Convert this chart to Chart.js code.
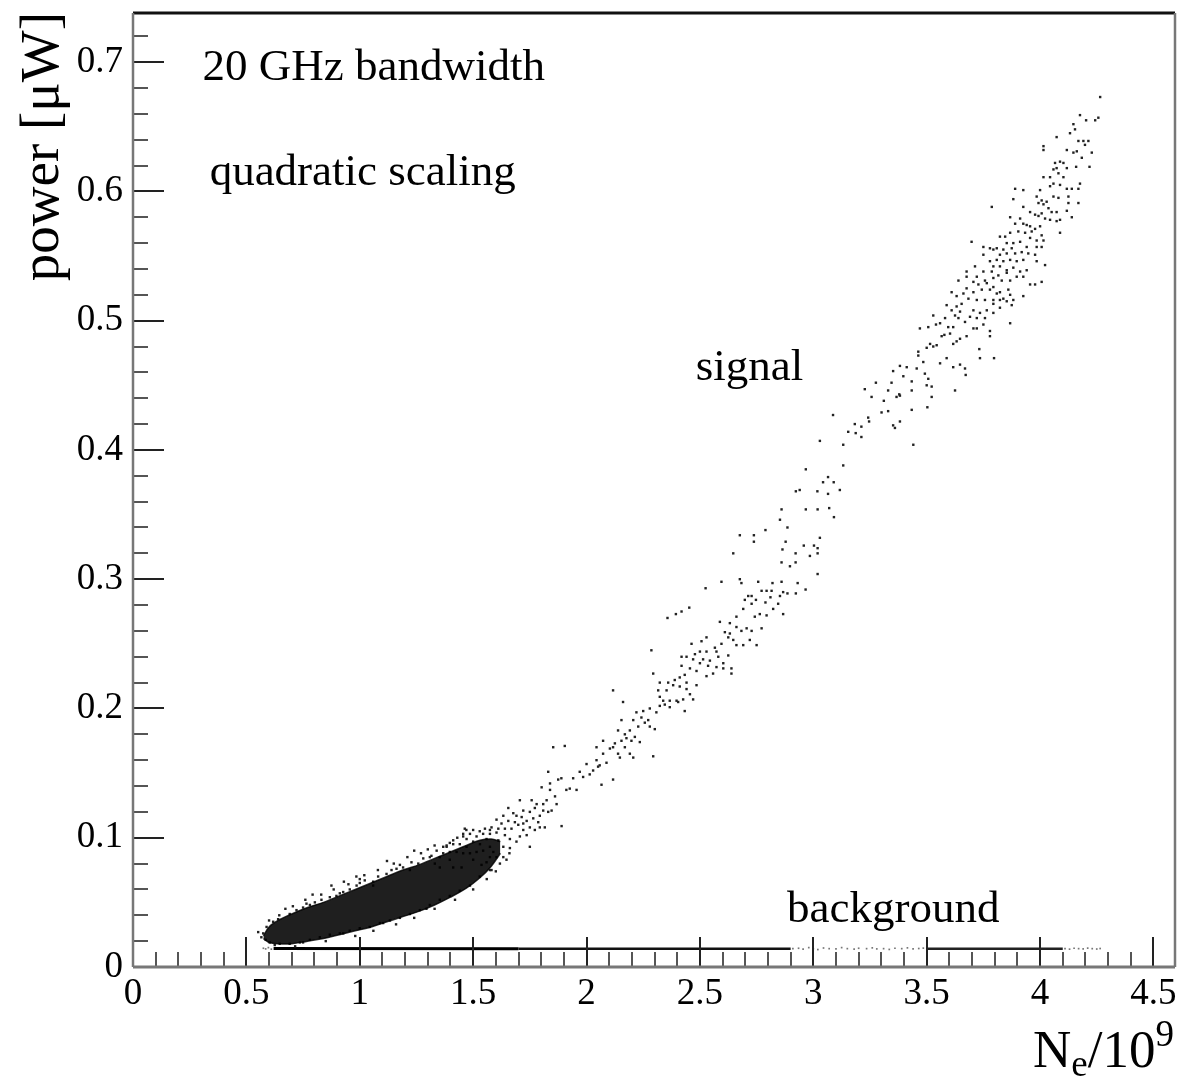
<!DOCTYPE html>
<html>
<head>
<meta charset="utf-8">
<title>power vs Ne</title>
<script src="https://cdn.jsdelivr.net/npm/chart.js@4.4.0/dist/chart.umd.min.js"></script>
<style>
  html, body { margin: 0; padding: 0; background: #fff; }
  #wrap { width: 1179px; height: 1078px; position: relative; }
</style>
</head>
<body>
<div id="wrap"><canvas id="plot"></canvas></div>
<script>
// Graduations des axes.
var xMajor = [0, 0.5, 1, 1.5, 2, 2.5, 3, 3.5, 4, 4.5];
var xLabels = ['0', '0.5', '1', '1.5', '2', '2.5', '3', '3.5', '4', '4.5'];
var xMinor = [0.1, 0.2, 0.3, 0.4, 0.6, 0.7, 0.8, 0.9, 1.1, 1.2, 1.3, 1.4, 1.6, 1.7, 1.8, 1.9,
              2.1, 2.2, 2.3, 2.4, 2.6, 2.7, 2.8, 2.9, 3.1, 3.2, 3.3, 3.4, 3.6, 3.7, 3.8, 3.9,
              4.1, 4.2, 4.3, 4.4];
var yMajor = [0, 0.1, 0.2, 0.3, 0.4, 0.5, 0.6, 0.7];
var yLabels = ['0', '0.1', '0.2', '0.3', '0.4', '0.5', '0.6', '0.7'];
var yMinor = [0.02, 0.04, 0.06, 0.08, 0.12, 0.14, 0.16, 0.18, 0.22, 0.24, 0.26, 0.28,
              0.32, 0.34, 0.36, 0.38, 0.42, 0.44, 0.46, 0.48, 0.52, 0.54, 0.56, 0.58,
              0.62, 0.64, 0.66, 0.68, 0.72];

// Coeur dense du signal (enveloppe haute et basse).
var coreX      = [0.575, 0.60, 0.64, 0.70, 0.77, 0.84, 0.91, 0.98, 1.05, 1.12, 1.19, 1.26, 1.33, 1.40, 1.47, 1.53, 1.58, 1.62];
var coreTop    = [0.024, 0.031, 0.036, 0.041, 0.046, 0.050, 0.055, 0.060, 0.065, 0.070, 0.075, 0.079, 0.084, 0.089, 0.094, 0.098, 0.099, 0.097];
var coreBottom = [0.022, 0.019, 0.018, 0.018, 0.020, 0.022, 0.025, 0.028, 0.031, 0.035, 0.039, 0.043, 0.048, 0.054, 0.061, 0.069, 0.078, 0.088];

// Points du signal autour du coeur.
var blobEdgeTop = [[0.574,0.026],[0.566,0.023],[0.589,0.031],[0.618,0.035],[0.640,0.037],[0.691,0.041],[0.721,0.044],
  [0.750,0.046],[0.780,0.048],[0.802,0.050],[0.831,0.052],[0.868,0.054],[0.897,0.055],[0.927,0.058],[0.956,0.060],
  [0.986,0.063],[1.000,0.065],[1.022,0.067],[1.059,0.066],[1.081,0.070],[1.118,0.072],[1.140,0.075],[1.162,0.076],
  [1.191,0.077],[1.228,0.081],[1.258,0.080],[1.280,0.084],[1.316,0.086],[1.339,0.090],[1.368,0.093],[1.397,0.096],
  [1.412,0.098],[1.456,0.101],[1.486,0.103],[1.529,0.105],[1.574,0.106],[1.383,0.094],[1.221,0.075],[1.059,0.063],
  [0.912,0.057],[0.765,0.049],[1.000,0.068],[1.177,0.079],
  [0.552,0.027],[0.600,0.036],[0.645,0.040],[0.672,0.045],[0.705,0.047],[0.760,0.052],[0.792,0.056],[0.830,0.056],
  [0.875,0.063],[0.885,0.060],[0.950,0.064],[0.985,0.070],[1.020,0.071],[1.080,0.075],[1.120,0.082],[1.150,0.080],
  [1.210,0.085],[1.240,0.090],[1.270,0.088],[1.330,0.094],[1.430,0.100],[1.470,0.106],[1.300,0.091],[0.930,0.066]];
var blobEdgeBottom = [[0.603,0.019],[0.647,0.018],[0.691,0.018],[0.736,0.019],[0.780,0.021],[0.824,0.023],[0.868,0.025],
  [0.912,0.026],[0.956,0.028],[1.000,0.030],[1.044,0.031],[1.089,0.034],[1.133,0.036],[1.177,0.038],[1.221,0.041],
  [1.265,0.044],[1.309,0.048],[1.353,0.052],[1.397,0.055],[1.441,0.059],[1.486,0.063],[1.529,0.070],[1.574,0.075],
  [1.618,0.080],[1.647,0.083],[1.294,0.045],[1.103,0.034],[0.927,0.026],[0.750,0.019],
  [0.585,0.021],[0.625,0.017],[0.715,0.016],[0.850,0.020],[0.980,0.024],[1.060,0.028],[1.160,0.033],[1.240,0.038],
  [1.330,0.045],[1.420,0.052],[1.500,0.060],[1.560,0.068],[1.600,0.074],[1.660,0.088]];
var signalRise = [[1.853,0.170],[1.831,0.151],[1.839,0.142],[1.839,0.137],[1.802,0.139],[1.875,0.145],[1.861,0.132],
  [1.824,0.129],[1.868,0.126],[1.809,0.126],[1.780,0.126],[1.758,0.129],[1.772,0.123],[1.750,0.120],[1.721,0.121],
  [1.794,0.117],[1.809,0.121],[1.831,0.120],[1.846,0.121],[1.706,0.129],[1.655,0.123],[1.677,0.119],[1.691,0.117],
  [1.714,0.116],[1.736,0.113],[1.765,0.115],[1.787,0.112],[1.794,0.108],[1.816,0.108],[1.750,0.108],[1.721,0.111],
  [1.699,0.110],[1.684,0.112],[1.655,0.113],[1.633,0.117],[1.625,0.111],[1.603,0.114],[1.581,0.108],[1.611,0.107],
  [1.640,0.107],[1.669,0.107],[1.603,0.104],[1.574,0.103],[1.552,0.107],[1.544,0.103],[1.559,0.099],[1.515,0.101],
  [1.500,0.106],[1.530,0.095],[1.500,0.097],[1.471,0.099],[1.463,0.107],[1.456,0.103],[1.471,0.093],[1.441,0.095],
  [1.412,0.095],[1.383,0.093],[1.397,0.089],[1.427,0.089],[1.456,0.088],[1.486,0.088],[1.515,0.089],[1.544,0.090],
  [1.574,0.093],[1.589,0.089],[1.633,0.093],[1.662,0.092],[1.691,0.097],[1.706,0.101],[1.736,0.102],[1.721,0.106],
  [1.772,0.106],[1.640,0.102],[1.611,0.098],[1.662,0.099],[1.633,0.085],[1.603,0.085],[1.574,0.085],[1.559,0.081],
  [1.581,0.075],[1.537,0.079],[1.500,0.083],[1.397,0.083],[1.353,0.085],[1.368,0.088],[1.331,0.080],[1.309,0.085],
  [1.449,0.077],[1.412,0.077],[1.353,0.077],[1.890,0.109],[1.750,0.093]];
var signalMid = [[2.860,0.354],[2.967,0.354],[3.019,0.354],[3.070,0.355],[3.091,0.348],[2.853,0.346],[2.886,0.340],
  [2.789,0.338],[2.676,0.334],[2.738,0.334],[2.738,0.329],[3.029,0.332],[2.878,0.329],[2.647,0.320],[2.864,0.323],
  [2.958,0.326],[3.003,0.326],[3.019,0.324],[2.922,0.320],[2.985,0.318],[3.019,0.320],[2.860,0.313],[2.922,0.313],
  [2.897,0.310],[3.019,0.304],[2.595,0.298],[2.676,0.300],[2.757,0.298],[2.820,0.297],[2.860,0.298],[2.931,0.297],
  [2.683,0.297],[2.525,0.293],[2.772,0.291],[2.794,0.291],[2.816,0.291],[2.867,0.290],[2.886,0.289],[2.923,0.289],
  [2.966,0.292],[2.713,0.287],[2.728,0.287],[2.747,0.284],[2.811,0.286],[2.853,0.287],[2.698,0.284],[2.728,0.281],
  [2.789,0.282],[2.845,0.281],[2.823,0.277],[2.453,0.278],[2.419,0.275],[2.394,0.273],[2.357,0.270],[2.691,0.277],
  [2.661,0.271],[2.764,0.273],[2.794,0.272],[2.867,0.273],[2.742,0.271],[2.588,0.267],[2.632,0.266],[2.661,0.263],
  [2.683,0.260],[2.706,0.262],[2.728,0.260],[2.772,0.262],[2.610,0.259],[2.632,0.258],[2.625,0.255],[2.647,0.253],
  [2.661,0.249],[2.691,0.249],[2.720,0.253],[2.750,0.249],[2.595,0.250],[2.529,0.255],[2.507,0.252],[2.566,0.247],
  [2.500,0.244],[2.529,0.244],[2.573,0.244],[2.463,0.250],[2.478,0.242],[2.470,0.238],[2.441,0.240],[2.514,0.238],
  [2.544,0.237],[2.500,0.235],[2.536,0.233],[2.419,0.240],[2.419,0.233],[2.603,0.235],[2.581,0.240],[2.625,0.241],
  [2.639,0.231],[2.639,0.227],[2.603,0.231],[2.573,0.232],[2.558,0.227],[2.529,0.225],[2.485,0.229],[2.456,0.231],
  [2.433,0.226],[2.411,0.224],[2.441,0.220],[2.389,0.222],[2.382,0.218],[2.411,0.217],[2.441,0.215],[2.485,0.218],
  [2.323,0.220],[2.360,0.220],[2.294,0.227],[2.286,0.245],[2.316,0.214],[2.353,0.214],[2.323,0.209],[2.338,0.206],
  [2.367,0.206],[2.397,0.206],[2.426,0.207],[2.456,0.211],[2.470,0.207],[2.367,0.201],[2.404,0.205],[2.433,0.198],
  [2.323,0.202],[2.345,0.203],[2.308,0.197],[2.279,0.200],[2.250,0.198],[2.220,0.197],[2.242,0.193],[2.206,0.191],
  [2.272,0.191],[2.301,0.184],[2.279,0.186],[2.257,0.189],[2.228,0.186],[2.191,0.183],[2.169,0.180],[2.176,0.177],
  [2.198,0.175],[2.235,0.174],[2.213,0.178],[2.139,0.183],[2.154,0.191],[2.154,0.175],[2.125,0.173],[2.103,0.169],
  [2.117,0.170],[2.139,0.165],[2.169,0.170],[2.191,0.165],[2.206,0.162],[2.147,0.162],[2.073,0.175],[2.044,0.170],
  [2.073,0.165],[2.044,0.160],[2.058,0.156],[2.088,0.158],[2.029,0.152],[2.051,0.155],[2.014,0.149],[2.000,0.157],
  [1.970,0.151],[1.941,0.146],[1.985,0.147],[1.926,0.138],[1.956,0.137],[1.911,0.137],[1.889,0.146],[1.904,0.171],
  [2.117,0.214],[2.161,0.205],[2.294,0.163],[2.066,0.141],[2.117,0.145]];
var signalHigh = [[3.352,0.461],[3.227,0.447],[3.330,0.446],[3.311,0.438],[3.367,0.441],[3.379,0.443],[3.257,0.441],
  [3.276,0.452],[3.345,0.452],[3.301,0.429],[3.330,0.430],[3.352,0.419],[3.360,0.417],[3.087,0.427],[3.242,0.425],
  [3.212,0.418],[3.183,0.420],[3.246,0.422],[3.154,0.414],[3.187,0.413],[3.212,0.410],[3.029,0.407],[3.132,0.404],
  [3.132,0.388],[2.967,0.385],[3.065,0.379],[3.043,0.375],[3.090,0.375],[3.117,0.369],[3.018,0.368],[2.923,0.368],
  [2.940,0.369],[3.065,0.366],
  [3.610,0.522],[3.632,0.519],[3.588,0.512],[3.610,0.508],[3.632,0.511],[3.647,0.507],[3.529,0.504],[3.541,0.497],
  [3.559,0.498],[3.581,0.502],[3.595,0.495],[3.617,0.495],[3.625,0.504],[3.640,0.502],[3.603,0.490],[3.617,0.482],
  [3.632,0.484],[3.647,0.486],[3.566,0.488],[3.544,0.481],[3.529,0.480],[3.515,0.482],[3.500,0.479],[3.463,0.476],
  [3.463,0.473],[3.485,0.468],[3.470,0.494],[3.507,0.495],[3.559,0.467],[3.588,0.471],[3.617,0.464],[3.647,0.466],
  [3.492,0.459],[3.507,0.455],[3.500,0.450],[3.522,0.449],[3.434,0.453],[3.434,0.446],[3.456,0.463],[3.412,0.464],
  [3.382,0.465],[3.397,0.457],[3.382,0.442],[3.434,0.431],[3.382,0.422],[3.441,0.404],[3.503,0.433],[3.522,0.441],
  [3.625,0.446],[3.578,0.489],[3.640,0.531],[3.672,0.458],[3.669,0.463],[3.732,0.478],[3.735,0.471],[3.797,0.471]];
var signalTop = [[4.265,0.673],[4.176,0.659],[4.243,0.655],[4.257,0.657],[4.203,0.655],[4.147,0.652],[4.154,0.648],
  [4.132,0.645],[4.073,0.642],[4.169,0.639],[4.191,0.639],[4.213,0.639],[4.198,0.636],[4.228,0.630],[4.184,0.626],
  [4.015,0.635],[4.015,0.632],[4.118,0.632],[4.147,0.630],[4.162,0.631],[4.066,0.622],[4.088,0.623],[4.103,0.622],
  [4.118,0.618],[4.059,0.617],[4.073,0.618],[4.081,0.614],[4.218,0.619],[4.159,0.619],[4.044,0.611],[4.015,0.611],
  [4.103,0.611],[4.176,0.606],[4.044,0.604],[4.059,0.606],[4.088,0.605],[4.118,0.602],[4.140,0.602],[4.169,0.602],
  [3.890,0.602],[3.926,0.601],[3.882,0.594],[4.000,0.601],[3.985,0.596],[4.007,0.593],[3.993,0.591],[4.015,0.590],
  [4.029,0.592],[4.059,0.596],[4.081,0.595],[4.125,0.596],[4.125,0.591],[4.169,0.591],[3.787,0.588],[3.926,0.588],
  [3.956,0.584],[3.978,0.582],[3.993,0.581],[4.007,0.583],[4.037,0.587],[4.051,0.584],[4.073,0.584],[4.118,0.585],
  [4.140,0.580],[4.088,0.578],[4.073,0.577],[4.044,0.578],[4.022,0.579],[3.868,0.580],[3.912,0.579],[3.890,0.575],
  [3.926,0.575],[3.941,0.574],[3.956,0.573],[3.978,0.571],[4.000,0.573],[3.963,0.569],[3.934,0.568],[4.007,0.566],
  [4.088,0.568],[3.904,0.569],[3.868,0.568],[3.846,0.565],[3.823,0.565],[3.853,0.560],[3.882,0.560],[3.912,0.561],
  [3.956,0.564],[3.985,0.562],[4.015,0.562],[3.698,0.561],[3.750,0.557],[3.779,0.556],[3.809,0.556],[3.838,0.555],
  [3.875,0.556],[3.941,0.557],[3.985,0.557],[4.007,0.557],[3.750,0.551],[3.794,0.555],[3.823,0.551],[3.853,0.552],
  [3.890,0.552],[3.919,0.553],[3.948,0.552],[3.978,0.551],[3.809,0.547],[3.838,0.546],[3.868,0.547],[3.897,0.546],
  [3.926,0.547],[3.985,0.546],[4.022,0.543],[3.779,0.546],[3.794,0.542],[3.823,0.542],[3.853,0.539],[3.882,0.541],
  [3.912,0.538],[3.941,0.539],[3.853,0.537],[3.713,0.542],[3.676,0.538],[3.750,0.538],[3.787,0.538],[3.816,0.535],
  [3.676,0.534],[3.721,0.534],[3.757,0.531],[3.794,0.533],[3.831,0.531],[3.868,0.531],[3.897,0.534],[3.926,0.534],
  [3.956,0.528],[4.007,0.530],[3.978,0.528],[3.706,0.530],[3.728,0.528],[3.765,0.529],[3.794,0.526],[3.823,0.522],
  [3.860,0.524],[3.676,0.525],[3.662,0.521],[3.706,0.522],[3.743,0.524],[3.779,0.524],[3.809,0.521],[3.838,0.517],
  [3.868,0.520],[3.926,0.519],[3.684,0.517],[3.721,0.516],[3.757,0.516],[3.794,0.516],[3.823,0.516],[3.853,0.515],
  [3.882,0.516],[3.794,0.513],[3.823,0.510],[3.875,0.512],[3.654,0.513],[3.706,0.508],[3.735,0.506],[3.765,0.508],
  [3.794,0.506],[3.691,0.503],[3.721,0.502],[3.757,0.502],[3.669,0.499],[3.750,0.497],[3.868,0.498],[3.706,0.494],
  [3.721,0.494],[3.779,0.492],[3.779,0.488],[3.676,0.488]];

// Fond : traits continus et points isolés.
var bgThickX = [0.62, 1.70];
var bgThickY = [0.0143, 0.0142];
var bgThinX = [1.70, 2.90];
var bgThinY = [0.0142, 0.0142];
var bgFarX = [3.50, 4.10];
var bgFarY = [0.0142, 0.0142];
var bgSparse = [[0.575,0.0145],[0.585,0.0140],[0.597,0.0150],[0.610,0.0138],
  [2.910,0.0142],[2.935,0.0145],[2.955,0.0138],[2.980,0.0150],[3.000,0.0142],[3.020,0.0135],[3.045,0.0147],
  [3.070,0.0142],[3.100,0.0140],[3.125,0.0150],[3.150,0.0142],[3.180,0.0138],[3.200,0.0145],[3.235,0.0142],
  [3.260,0.0148],[3.280,0.0140],[3.310,0.0142],[3.335,0.0136],[3.360,0.0145],[3.390,0.0142],[3.415,0.0148],
  [3.440,0.0140],[3.465,0.0143],[3.485,0.0146],
  [4.110,0.0142],[4.130,0.0138],[4.150,0.0145],[4.170,0.0142],[4.190,0.0140],[4.210,0.0146],[4.230,0.0142],
  [4.250,0.0139],[4.265,0.0143]];

// Textes posés dans le repère des données.
var notes = [
  { text: '20 GHz bandwidth', x: 0.307, y: 0.686 },
  { text: 'quadratic scaling', x: 0.338, y: 0.605 },
  { text: 'signal', x: 2.482, y: 0.454 },
  { text: 'background', x: 2.884, y: 0.0348 }
];

var serif = '"Liberation Serif", "DejaVu Serif", serif';

function pairs(list) {
  return list.map(function (p) { return { x: p[0], y: p[1] }; });
}
function zipXY(xs, ys) {
  return xs.map(function (x, i) { return { x: x, y: ys[i] }; });
}

// Cadre, graduations et textes, dessinés à la manière de ROOT.
var rootFrame = {
  id: 'rootFrame',
  afterDatasetsDraw: function (chart) {
    var ctx = chart.ctx;
    var a = chart.chartArea;
    var xs = chart.scales.x;
    var ys = chart.scales.y;

    function seg(x1, y1, x2, y2) {
      ctx.beginPath();
      ctx.moveTo(x1, y1);
      ctx.lineTo(x2, y2);
      ctx.stroke();
    }

    ctx.save();
    ctx.lineWidth = 2;
    ctx.strokeStyle = '#222';
    xMajor.forEach(function (v) {
      var px = Math.round(xs.getPixelForValue(v));
      seg(px, a.bottom, px, a.bottom - 30);
    });
    yMajor.forEach(function (v) {
      var py = Math.round(ys.getPixelForValue(v));
      seg(a.left, py, a.left + 31, py);
    });
    ctx.strokeStyle = '#555';
    xMinor.forEach(function (v) {
      var px = Math.round(xs.getPixelForValue(v));
      seg(px, a.bottom, px, a.bottom - 15);
    });
    yMinor.forEach(function (v) {
      var py = Math.round(ys.getPixelForValue(v));
      seg(a.left, py, a.left + 15, py);
    });

    ctx.strokeStyle = '#111';
    ctx.lineWidth = 3;
    seg(a.left, a.top, a.right, a.top);
    ctx.strokeStyle = '#777';
    ctx.lineWidth = 2.5;
    seg(a.right, a.top, a.right, a.bottom);
    seg(a.left, a.top, a.left, a.bottom);
    ctx.lineWidth = 3;
    seg(a.left, a.bottom, a.right, a.bottom);
    ctx.restore();
  },
  afterDraw: function (chart) {
    var ctx = chart.ctx;
    var xs = chart.scales.x;
    var ys = chart.scales.y;
    ctx.save();
    ctx.fillStyle = '#000';
    ctx.textBaseline = 'alphabetic';
    ctx.textAlign = 'left';
    ctx.font = '45px ' + serif;
    notes.forEach(function (n) {
      ctx.fillText(n.text, xs.getPixelForValue(n.x), ys.getPixelForValue(n.y));
    });

    // Titre de l'axe y, tourné.
    ctx.save();
    ctx.translate(58, 12);
    ctx.rotate(-Math.PI / 2);
    ctx.textAlign = 'right';
    ctx.font = '55px ' + serif;
    ctx.fillText('power [\u03BCW]', 0, 0);
    ctx.restore();

    // Titre de l'axe x : N_e/10^9 aligné à droite.
    var big = '53px ' + serif;
    var small = '37px ' + serif;
    ctx.font = big;
    var wN = ctx.measureText('N').width;
    var wS = ctx.measureText('/10').width;
    ctx.font = small;
    var wE = ctx.measureText('e').width;
    var w9 = ctx.measureText('9').width;
    var x0 = 1174 - (wN + wE + wS + w9);
    ctx.font = big;
    ctx.fillText('N', x0, 1067);
    ctx.font = small;
    ctx.fillText('e', x0 + wN, 1076);
    ctx.font = big;
    ctx.fillText('/10', x0 + wN + wE, 1067);
    ctx.font = small;
    ctx.fillText('9', x0 + wN + wE + wS, 1046);
    ctx.restore();
  }
};

var signalPoints = pairs(blobEdgeTop.concat(blobEdgeBottom, signalRise, signalMid, signalHigh, signalTop));

var chart = new Chart(document.getElementById('plot'), {
  type: 'scatter',
  data: {
    datasets: [
      {
        type: 'line',
        data: zipXY(coreX, coreBottom),
        borderColor: 'rgba(0,0,0,0.8)',
        borderWidth: 1.5,
        pointRadius: 0,
        tension: 0.35,
        fill: false
      },
      {
        type: 'line',
        data: zipXY(coreX, coreTop),
        borderColor: 'rgba(0,0,0,0.8)',
        backgroundColor: 'rgba(0,0,0,0.88)',
        borderWidth: 1.5,
        pointRadius: 0,
        tension: 0.35,
        fill: '-1'
      },
      {
        data: signalPoints,
        pointStyle: 'rect',
        pointRadius: 1.7,
        backgroundColor: '#222',
        borderWidth: 0
      },
      {
        type: 'line',
        data: zipXY(bgThickX, bgThickY),
        borderColor: '#000',
        borderWidth: 3,
        pointRadius: 0,
        fill: false
      },
      {
        type: 'line',
        data: zipXY(bgThinX, bgThinY),
        borderColor: '#111',
        borderWidth: 2.5,
        pointRadius: 0,
        fill: false
      },
      {
        type: 'line',
        data: zipXY(bgFarX, bgFarY),
        borderColor: '#222',
        borderWidth: 2.5,
        pointRadius: 0,
        fill: false
      },
      {
        data: pairs(bgSparse),
        pointStyle: 'rect',
        pointRadius: 1.2,
        backgroundColor: '#777',
        borderWidth: 0
      }
    ]
  },
  options: {
    responsive: true,
    maintainAspectRatio: false,
    animation: false,
    layout: { padding: { left: 0, right: 4, top: 13, bottom: 0 } },
    plugins: {
      legend: { display: false },
      tooltip: { enabled: false }
    },
    scales: {
      x: {
        type: 'linear',
        min: 0,
        max: 4.595,
        grid: { display: false, drawTicks: false },
        border: { display: false },
        afterBuildTicks: function (s) { s.ticks = xMajor.map(function (v) { return { value: v }; }); },
        afterFit: function (s) {
          s.height = 111;
          s.paddingLeft = 0;
          s.paddingRight = 0;
        },
        ticks: {
          autoSkip: false,
          maxRotation: 0,
          padding: 5,
          color: '#000',
          font: { family: serif, size: 37 },
          callback: function (v, i) { return xLabels[i]; }
        }
      },
      y: {
        type: 'linear',
        min: 0,
        max: 0.738,
        grid: { display: false, drawTicks: false },
        border: { display: false },
        afterBuildTicks: function (s) { s.ticks = yMajor.map(function (v) { return { value: v }; }); },
        afterFit: function (s) {
          s.width = 133;
          s.paddingTop = 0;
          s.paddingBottom = 0;
        },
        ticks: {
          autoSkip: false,
          padding: 10,
          color: '#000',
          font: { family: serif, size: 37 },
          callback: function (v, i) { return yLabels[i]; }
        }
      }
    }
  },
  plugins: [rootFrame]
});
</script>
</body>
</html>
